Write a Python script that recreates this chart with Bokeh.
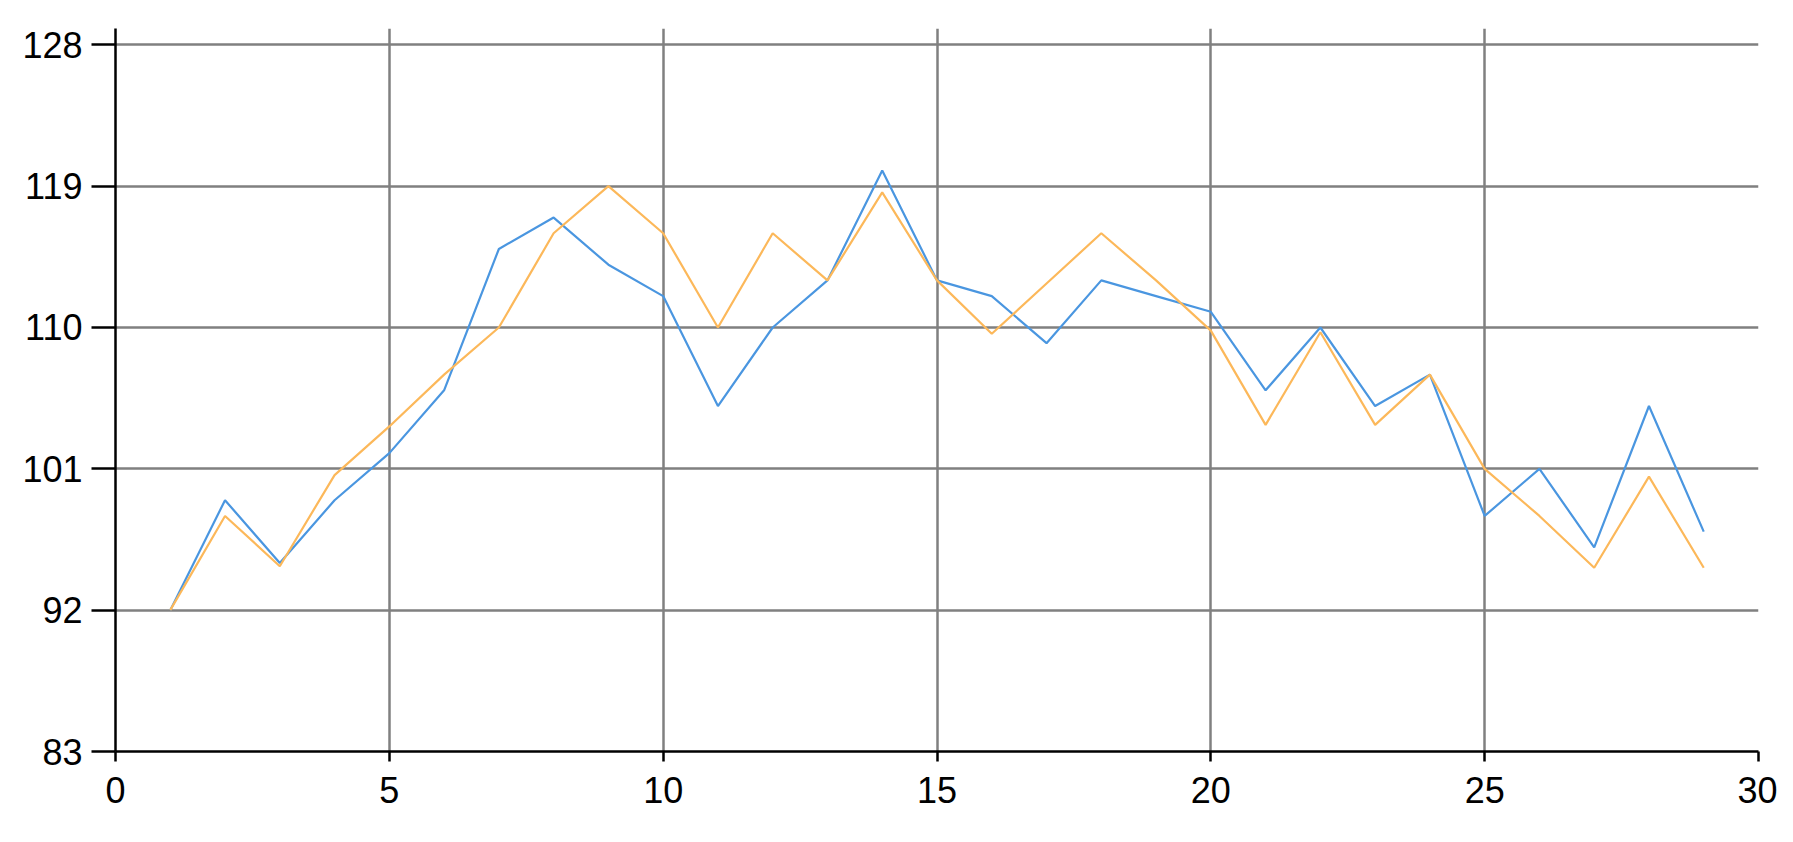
from bokeh.plotting import figure
from bokeh.models import FixedTicker, Range1d
from bokeh.embed import file_html
from bokeh.resources import INLINE

x_values = list(range(1, 30))
series_blue = [92, 99, 95, 99, 102, 106, 115, 117, 114, 112, 105, 110, 113, 120, 113,
               112, 109, 113, 112, 111, 106, 110, 105, 107, 98, 101, 96, 105, 97]
series_orange = [92, 98, 94.8, 100.6, 103.7, 107, 110, 116, 119, 116, 110, 116, 113, 118.6, 113,
                 109.6, 112.8, 116, 113, 109.8, 103.8, 109.7, 103.8, 107, 101, 98, 94.7, 100.5, 94.7]
x_ticks = [0, 5, 10, 15, 20, 25, 30]
y_ticks = [83, 92, 101, 110, 119, 128]

p = figure(width=1777, height=826, output_backend="svg", toolbar_location=None,
           x_range=Range1d(0, 30), y_range=Range1d(83, 129.04),
           min_border_left=115, min_border_right=19, min_border_top=28, min_border_bottom=75)
p.outline_line_color = None
p.background_fill_color = "white"
p.border_fill_color = "white"

p.line(x_values, series_blue, line_color="#4A96E0", line_width=2.2)
p.line(x_values, series_orange, line_color="#FCB85A", line_width=2.2)

p.xaxis.ticker = FixedTicker(ticks=x_ticks)
p.yaxis.ticker = FixedTicker(ticks=y_ticks)
p.xgrid.ticker = FixedTicker(ticks=x_ticks)
p.ygrid.ticker = FixedTicker(ticks=y_ticks)

for g in (p.xgrid, p.ygrid):
    g.grid_line_color = "#808080"
    g.grid_line_width = 2.5

for ax in (p.xaxis, p.yaxis):
    ax.axis_line_color = "black"
    ax.axis_line_width = 2.5
    ax.major_tick_line_color = "black"
    ax.major_tick_line_width = 2.5
    ax.minor_tick_line_color = None
    ax.major_tick_in = 0
    ax.major_label_text_font = "Liberation Sans"
    ax.major_label_text_font_size = "36px"
    ax.major_label_text_color = "black"

p.yaxis.major_tick_out = 24
p.yaxis.major_label_standoff = 9
p.xaxis.major_tick_out = 10
p.xaxis.major_label_standoff = 15

open("out.html", "w").write(file_html(p, INLINE))
